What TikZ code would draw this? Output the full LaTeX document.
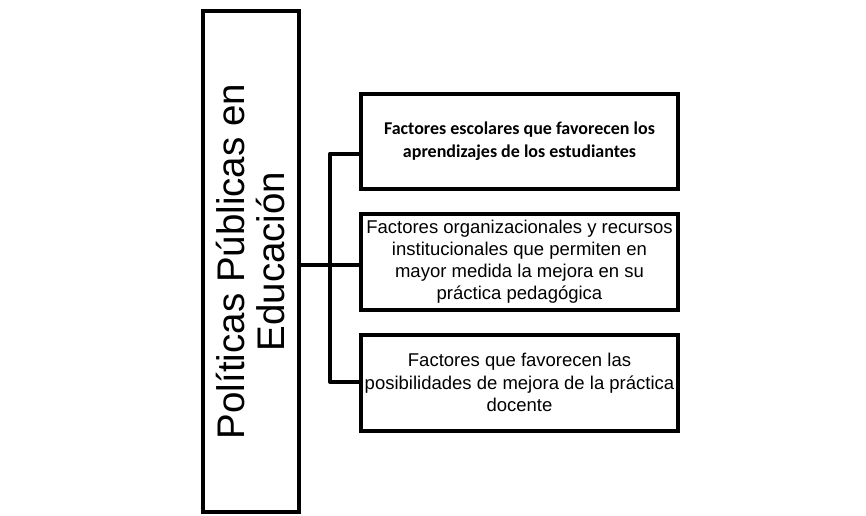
\documentclass[tikz,border=0pt]{standalone}
\usepackage{fontspec}
\setmainfont{Liberation Sans}
\newfontfamily\calib{Carlito}
\begin{document}
\begin{tikzpicture}[x=1pt,y=-1pt,
  box/.style={draw=black,line width=4pt,fill=white,inner sep=0pt,align=center,minimum width=317pt},
  conn/.style={draw=black,line width=4pt,line join=round}]
\useasboundingbox (0,0) rectangle (866,515);
\node[box,minimum width=96pt,minimum height=501pt] (lb) at (250.5,261.5) {};
\node[rotate=90,align=center,inner sep=0pt,font=\fontsize{38.5}{40}\selectfont] (lt) at (lb.center) {Políticas Públicas en\\Educación};
\node[box,minimum height=95pt,font=\calib\bfseries\fontsize{18}{23}\selectfont] (b1) at (519.5,141.5) {Factores escolares que favorecen los\\aprendizajes de los estudiantes};
\node[box,minimum height=95.5pt,font=\fontsize{18.5}{22}\selectfont] (b2) at (519.5,261.75) {Factores organizacionales y recursos\\institucionales que permiten en\\mayor medida la mejora en su\\práctica pedagógica};
\node[box,minimum height=96pt,font=\fontsize{18.5}{22.5}\selectfont] (b3) at (519.5,382.5) {Factores que favorecen las\\posibilidades de mejora de la práctica\\docente};
\coordinate (jT) at (330,153.5);
\coordinate (jM) at (330,265);
\coordinate (jB) at (330,382);
\draw[conn] (jT -| b1.west) -- (jT) -- (jB) -- (jB -| b3.west);
\draw[conn] (jM -| lb.east) -- (jM -| b2.west);
\end{tikzpicture}
\end{document}
